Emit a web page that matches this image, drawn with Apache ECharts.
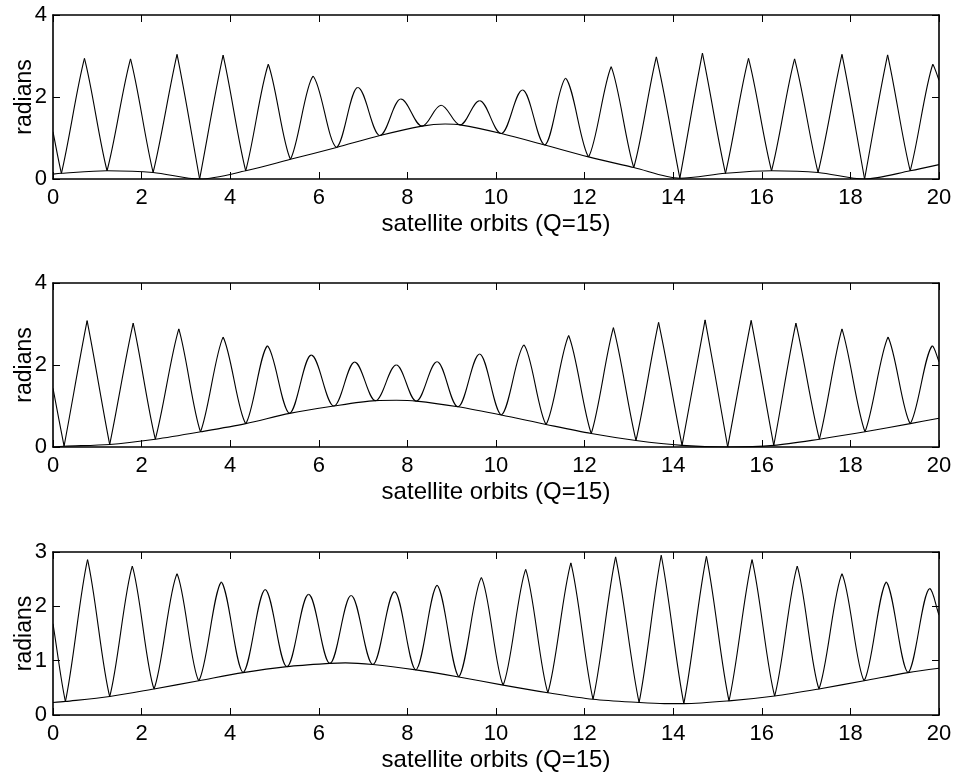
<!DOCTYPE html>
<html>
<head>
<meta charset="utf-8">
<script src="https://cdn.jsdelivr.net/npm/echarts@6/dist/echarts.min.js"></script>
<style>
  html, body { margin: 0; padding: 0; background: #ffffff; }
  #chart { width: 956px; height: 775px; }
</style>
</head>
<body>
<div id="chart"></div>
<script>
// Angle curves: turning points (troughs and peaks) plus the two end values, per panel.
const orbitsA  = [0, 0.19, 0.71, 1.22, 1.75, 2.26, 2.80, 3.31, 3.84, 4.35, 4.86, 5.36, 5.87, 6.40, 6.88, 7.38, 7.85, 8.33, 8.76, 9.19, 9.63, 10.12, 10.60, 11.10, 11.57, 12.09, 12.60, 13.11, 13.62, 14.15, 14.66, 15.18, 15.70, 16.22, 16.74, 17.27, 17.81, 18.32, 18.84, 19.35, 19.86, 20];
const radiansA = [1.15, 0.14, 2.94, 0.20, 2.93, 0.16, 3.04, 0.00, 3.02, 0.20, 2.80, 0.48, 2.51, 0.77, 2.23, 1.06, 1.95, 1.29, 1.80, 1.32, 1.91, 1.11, 2.17, 0.83, 2.46, 0.54, 2.74, 0.28, 2.98, 0.02, 3.07, 0.14, 2.94, 0.20, 2.93, 0.16, 3.04, 0.00, 3.03, 0.20, 2.80, 2.41];

const orbitsB  = [0, 0.25, 0.77, 1.28, 1.81, 2.31, 2.84, 3.33, 3.84, 4.35, 4.84, 5.34, 5.83, 6.34, 6.81, 7.28, 7.75, 8.20, 8.67, 9.14, 9.63, 10.12, 10.63, 11.13, 11.64, 12.15, 12.65, 13.16, 13.67, 14.20, 14.72, 15.23, 15.76, 16.27, 16.77, 17.30, 17.81, 18.33, 18.85, 19.35, 19.85, 20];
const radiansB = [1.43, 0.02, 3.08, 0.06, 3.02, 0.19, 2.88, 0.37, 2.68, 0.57, 2.47, 0.82, 2.24, 1.00, 2.07, 1.13, 2.00, 1.12, 2.08, 0.98, 2.27, 0.78, 2.49, 0.55, 2.72, 0.33, 2.91, 0.16, 3.04, 0.04, 3.10, 0.00, 3.09, 0.04, 3.02, 0.19, 2.88, 0.37, 2.68, 0.57, 2.47, 2.08];

const orbitsC  = [0, 0.28, 0.78, 1.28, 1.79, 2.28, 2.80, 3.29, 3.80, 4.29, 4.79, 5.28, 5.77, 6.25, 6.73, 7.22, 7.71, 8.19, 8.67, 9.16, 9.67, 10.16, 10.67, 11.17, 11.69, 12.19, 12.70, 13.23, 13.73, 14.24, 14.75, 15.26, 15.78, 16.29, 16.80, 17.29, 17.81, 18.31, 18.81, 19.30, 19.79, 20];
const radiansC = [1.68, 0.25, 2.86, 0.34, 2.74, 0.48, 2.60, 0.63, 2.45, 0.78, 2.31, 0.89, 2.22, 0.95, 2.20, 0.93, 2.27, 0.83, 2.39, 0.70, 2.53, 0.55, 2.68, 0.41, 2.80, 0.29, 2.91, 0.23, 2.94, 0.21, 2.92, 0.26, 2.86, 0.35, 2.74, 0.48, 2.60, 0.63, 2.45, 0.78, 2.33, 1.84];

// Lower bounding curves, per panel.
const floorOrbitsA  = [0, 0.19, 1.22, 2.26, 3.31, 4.35, 5.36, 6.40, 7.38, 8.33, 8.85, 9.19, 10.12, 11.10, 12.09, 13.11, 14.15, 15.18, 16.22, 17.27, 18.32, 19.35, 20];
const floorRadiansA = [0.12, 0.14, 0.20, 0.16, 0.00, 0.20, 0.48, 0.77, 1.06, 1.29, 1.34, 1.32, 1.11, 0.83, 0.54, 0.28, 0.02, 0.14, 0.20, 0.16, 0.00, 0.20, 0.35];

const floorOrbitsB  = [0, 0.25, 1.28, 2.31, 3.33, 4.35, 5.34, 6.34, 7.28, 7.75, 8.20, 9.14, 10.12, 11.13, 12.15, 13.16, 14.20, 15.23, 16.27, 17.30, 18.33, 19.35, 20];
const floorRadiansB = [0.00, 0.02, 0.06, 0.19, 0.37, 0.57, 0.82, 1.00, 1.13, 1.14, 1.12, 0.98, 0.78, 0.55, 0.33, 0.16, 0.04, 0.00, 0.04, 0.19, 0.37, 0.57, 0.70];

const floorOrbitsC  = [0, 0.28, 1.28, 2.28, 3.29, 4.29, 5.28, 6.25, 6.60, 7.22, 8.19, 9.16, 10.16, 11.17, 12.19, 13.23, 13.80, 14.24, 15.26, 16.29, 17.29, 18.31, 19.30, 20];
const floorRadiansC = [0.23, 0.25, 0.34, 0.48, 0.63, 0.78, 0.89, 0.95, 0.96, 0.93, 0.83, 0.70, 0.55, 0.41, 0.29, 0.23, 0.21, 0.21, 0.26, 0.35, 0.48, 0.63, 0.78, 0.86];

// Axis ranges and labels.
const orbitRange = [0, 20];
const orbitStep = 2;
const radianMax = [4, 4, 3];
const radianStep = [2, 2, 1];
const xTitle = 'satellite orbits (Q=15)';
const yTitle = 'radians';

const panels = [
  { x: orbitsA, y: radiansA, fx: floorOrbitsA, fy: floorRadiansA },
  { x: orbitsB, y: radiansB, fx: floorOrbitsB, fy: floorRadiansB },
  { x: orbitsC, y: radiansC, fx: floorOrbitsC, fy: floorRadiansC }
];

const FONT = '"Liberation Sans", Arial, Helvetica, sans-serif';
const INK = '#000000';
const gridBoxes = [
  { left: 53, width: 886, top: 15, height: 164 },
  { left: 53, width: 886, top: 283, height: 164 },
  { left: 53, width: 886, top: 552, height: 163 }
];

// How round a turning point is drawn: an angle close to 0 or to pi turns
// sharply, one far from both turns like a sine wave.
const HANDLE = 0.36;
function turnKind(ys, i) {
  if (i <= 0 || i >= ys.length - 1) return null;
  if (ys[i] > ys[i - 1] && ys[i] > ys[i + 1]) return 'max';
  if (ys[i] < ys[i - 1] && ys[i] < ys[i + 1]) return 'min';
  return null;
}
function roundness(ys, i) {
  const kind = turnKind(ys, i);
  if (!kind) return 0;
  const gap = kind === 'max' ? Math.PI - ys[i] : ys[i];
  return Math.min(1, Math.max(0, gap / 0.9));
}

function angleSeries(k, xs, ys) {
  return {
    type: 'custom',
    coordinateSystem: 'cartesian2d',
    xAxisIndex: 2 * k,
    yAxisIndex: 2 * k,
    clip: true,
    silent: true,
    encode: { x: 0, y: 1 },
    data: xs.map((x, i) => [x, ys[i]]),
    renderItem: function (params, api) {
      const i = params.dataIndex;
      if (i >= xs.length - 1) return null;
      const a = api.coord([xs[i], ys[i]]);
      const b = api.coord([xs[i + 1], ys[i + 1]]);
      const dx = b[0] - a[0], dy = b[1] - a[1];
      const wa = roundness(ys, i), wb = roundness(ys, i + 1);
      const c1 = [a[0] + dx * HANDLE, a[1] + dy * HANDLE * (1 - wa)];
      const c2 = [b[0] - dx * HANDLE, b[1] - dy * HANDLE * (1 - wb)];
      return {
        type: 'bezierCurve',
        shape: { x1: a[0], y1: a[1], x2: b[0], y2: b[1], cpx1: c1[0], cpy1: c1[1], cpx2: c2[0], cpy2: c2[1] },
        style: { stroke: INK, lineWidth: 1.1, fill: 'none' }
      };
    }
  };
}

function floorSeries(k, xs, ys) {
  return {
    type: 'line',
    xAxisIndex: 2 * k,
    yAxisIndex: 2 * k,
    data: xs.map((x, i) => [x, ys[i]]),
    smooth: 0.3,
    showSymbol: false,
    silent: true,
    lineStyle: { color: INK, width: 1.1 },
    z: 3
  };
}

const xAxes = [], yAxes = [], series = [];
panels.forEach((p, k) => {
  const tick = { show: true, inside: true, length: 7, lineStyle: { color: INK, width: 1 } };
  const line = { show: true, onZero: false, lineStyle: { color: INK, width: 1.6 } };
  xAxes.push({
    gridIndex: k, type: 'value', position: 'bottom',
    min: orbitRange[0], max: orbitRange[1], interval: orbitStep,
    axisLine: line, axisTick: tick, splitLine: { show: false },
    axisLabel: { color: INK, fontFamily: FONT, fontSize: 22, margin: 8 },
    name: xTitle, nameLocation: 'middle', nameGap: 33, nameMoveOverlap: false,
    nameTextStyle: { color: INK, fontFamily: FONT, fontSize: 24 }
  });
  xAxes.push({
    gridIndex: k, type: 'value', position: 'top',
    min: orbitRange[0], max: orbitRange[1], interval: orbitStep,
    axisLine: line, axisTick: tick, splitLine: { show: false },
    axisLabel: { show: false }
  });
  yAxes.push({
    gridIndex: k, type: 'value', position: 'left',
    min: 0, max: radianMax[k], interval: radianStep[k],
    axisLine: line, axisTick: tick, splitLine: { show: false },
    axisLabel: { color: INK, fontFamily: FONT, fontSize: 22, margin: 6 },
    name: yTitle, nameLocation: 'middle', nameGap: 17, nameRotate: 90, nameMoveOverlap: false,
    nameTextStyle: { color: INK, fontFamily: FONT, fontSize: 23 }
  });
  yAxes.push({
    gridIndex: k, type: 'value', position: 'right',
    min: 0, max: radianMax[k], interval: radianStep[k],
    axisLine: line, axisTick: tick, splitLine: { show: false },
    axisLabel: { show: false }
  });
  series.push(angleSeries(k, p.x, p.y));
  series.push(floorSeries(k, p.fx, p.fy));
});

const chart = echarts.init(document.getElementById('chart'), null, { renderer: 'canvas' });
chart.setOption({
  animation: false,
  backgroundColor: '#ffffff',
  grid: gridBoxes.map(g => Object.assign({ containLabel: false, outerBoundsMode: 'none' }, g)),
  xAxis: xAxes,
  yAxis: yAxes,
  series: series
});
</script>
</body>
</html>
